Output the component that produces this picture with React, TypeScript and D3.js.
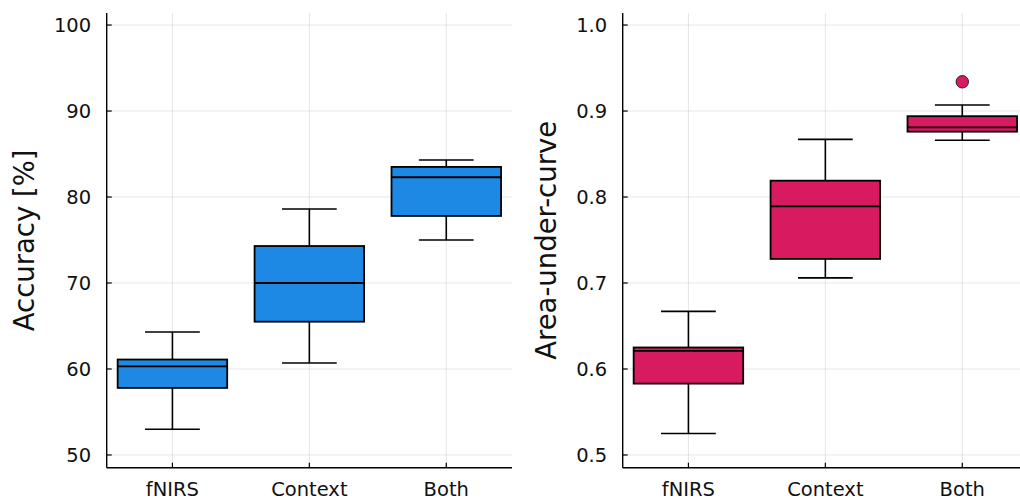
import React from "react";
import * as d3 from "d3";

const categories = ["fNIRS", "Context", "Both"];

// Accuracy [%] box stats: lower whisker, Q1, median, Q3, upper whisker
const accLow = [53.0, 60.7, 75.0];
const accQ1 = [57.8, 65.5, 77.8];
const accMed = [60.3, 70.0, 82.3];
const accQ3 = [61.1, 74.3, 83.5];
const accHigh = [64.3, 78.6, 84.3];
const accOutliers: number[][] = [[], [], []];
const accTicks = [50, 60, 70, 80, 90, 100];

// AUC box stats
const aucLow = [0.525, 0.706, 0.866];
const aucQ1 = [0.583, 0.728, 0.876];
const aucMed = [0.621, 0.789, 0.881];
const aucQ3 = [0.625, 0.819, 0.894];
const aucHigh = [0.667, 0.867, 0.907];
const aucOutliers: number[][] = [[], [], [0.934]];
const aucTicks = [0.5, 0.6, 0.7, 0.8, 0.9, 1.0];

const FONT = "DejaVu Sans";

type PanelProps = {
  left: number;
  width: number;
  top: number;
  bottom: number;
  yDomain: [number, number];
  ticks: number[];
  tickFmt: (v: number) => string;
  label: string;
  labelX: number;
  color: string;
  low: number[];
  q1: number[];
  med: number[];
  q3: number[];
  high: number[];
  outliers: number[][];
};

function Panel(p: PanelProps) {
  const x = d3.scaleLinear().domain([0.02, 2.98]).range([p.left, p.left + p.width]);
  const y = d3.scaleLinear().domain(p.yDomain).range([p.bottom, p.top]);
  const pos = categories.map((_, i) => i + 0.5);
  const bw = 0.8;
  const cw = 0.4;
  const right = p.left + p.width;
  return (
    <g>
      {p.ticks.map((t) => (
        <line key={"gy" + t} x1={p.left} x2={right} y1={y(t)} y2={y(t)} stroke="#000" strokeOpacity={0.1} strokeWidth={1} />
      ))}
      {pos.map((c, i) => (
        <line key={"gx" + i} x1={x(c)} x2={x(c)} y1={p.top} y2={p.bottom} stroke="#000" strokeOpacity={0.1} strokeWidth={1} />
      ))}
      {pos.map((c, i) => (
        <g key={"b" + i}>
          <line x1={x(c)} x2={x(c)} y1={y(p.high[i])} y2={y(p.q3[i])} stroke="#000" strokeWidth={1.6} />
          <line x1={x(c)} x2={x(c)} y1={y(p.q1[i])} y2={y(p.low[i])} stroke="#000" strokeWidth={1.6} />
          <line x1={x(c - cw / 2)} x2={x(c + cw / 2)} y1={y(p.high[i])} y2={y(p.high[i])} stroke="#000" strokeWidth={1.6} />
          <line x1={x(c - cw / 2)} x2={x(c + cw / 2)} y1={y(p.low[i])} y2={y(p.low[i])} stroke="#000" strokeWidth={1.6} />
          <rect
            x={x(c - bw / 2)}
            width={x(c + bw / 2) - x(c - bw / 2)}
            y={y(p.q3[i])}
            height={y(p.q1[i]) - y(p.q3[i])}
            fill={p.color}
            stroke="#000"
            strokeWidth={1.8}
          />
          <line x1={x(c - bw / 2)} x2={x(c + bw / 2)} y1={y(p.med[i])} y2={y(p.med[i])} stroke="#000" strokeWidth={1.8} />
          {p.outliers[i].map((o, j) => (
            <circle key={j} cx={x(c)} cy={y(o)} r={6.2} fill={p.color} stroke="#222" strokeWidth={1} />
          ))}
        </g>
      ))}
      <line x1={p.left} x2={p.left} y1={p.top} y2={p.bottom} stroke="#000" strokeWidth={1.4} />
      <line x1={p.left} x2={right} y1={p.bottom} y2={p.bottom} stroke="#000" strokeWidth={1.4} />
      {p.ticks.map((t) => (
        <g key={"ty" + t}>
          <line x1={p.left} x2={p.left + 5} y1={y(t)} y2={y(t)} stroke="#000" strokeWidth={1.2} />
          <text x={p.left - 15.5} y={y(t)} dy="0.36em" textAnchor="end" fontFamily={FONT} fontSize={19.5} fill="#111">
            {p.tickFmt(t)}
          </text>
        </g>
      ))}
      {pos.map((c, i) => (
        <g key={"tx" + i}>
          <line x1={x(c)} x2={x(c)} y1={p.bottom} y2={p.bottom - 5} stroke="#000" strokeWidth={1.2} />
          <text x={x(c)} y={495.5} textAnchor="middle" fontFamily={FONT} fontSize={19.5} fill="#111">
            {categories[i]}
          </text>
        </g>
      ))}
      <text
        transform={`translate(${p.labelX},${(p.top + p.bottom) / 2}) rotate(-90)`}
        textAnchor="middle"
        fontFamily={FONT}
        fontSize={27.5}
        fill="#111"
      >
        {p.label}
      </text>
    </g>
  );
}

export default function App() {
  return (
    <svg width={1020} height={498} style={{ position: "absolute", left: 0, top: 0, background: "#fff" }}>
      <rect width={1020} height={498} fill="#fff" />
      <Panel
        left={106.7}
        width={405.3}
        top={13}
        bottom={467.7}
        yDomain={[48.52, 101.4]}
        ticks={accTicks}
        tickFmt={(v) => String(v)}
        label="Accuracy [%]"
        labelX={34}
        color="#1E88E5"
        low={accLow}
        q1={accQ1}
        med={accMed}
        q3={accQ3}
        high={accHigh}
        outliers={accOutliers}
      />
      <Panel
        left={622.7}
        width={405.3}
        top={13}
        bottom={467.7}
        yDomain={[0.4852, 1.014]}
        ticks={aucTicks}
        tickFmt={(v) => v.toFixed(1)}
        label="Area-under-curve"
        labelX={556}
        color="#D81B60"
        low={aucLow}
        q1={aucQ1}
        med={aucMed}
        q3={aucQ3}
        high={aucHigh}
        outliers={aucOutliers}
      />
    </svg>
  );
}
